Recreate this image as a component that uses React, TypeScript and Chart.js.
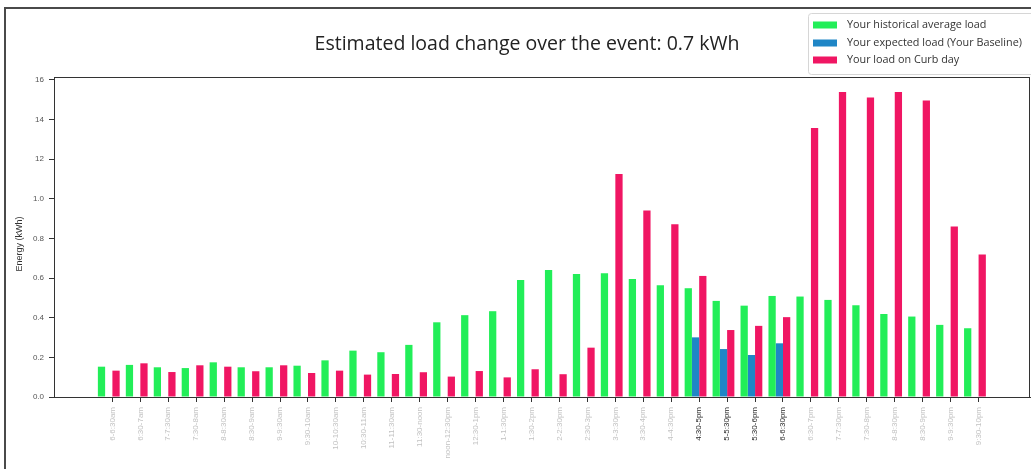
import React, { useEffect, useRef } from "react";
import { Chart, registerables } from "chart.js";

Chart.register(...registerables);

const categories = [
  "6-6:30am", "6:30-7am", "7-7:30am", "7:30-8am", "8-8:30am", "8:30-9am",
  "9-9:30am", "9:30-10am", "10-10:30am", "10:30-11am", "11-11:30am", "11:30-noon",
  "noon-12:30pm", "12:30-1pm", "1-1:30pm", "1:30-2pm", "2-2:30pm", "2:30-3pm",
  "3-3:30pm", "3:30-4pm", "4-4:30pm", "4:30-5pm", "5-5:30pm", "5:30-6pm",
  "6-6:30pm", "6:30-7pm", "7-7:30pm", "7:30-8pm", "8-8:30pm", "8:30-9pm",
  "9-9:30pm", "9:30-10pm",
];

const eventCategories = ["4:30-5pm", "5-5:30pm", "5:30-6pm", "6-6:30pm"];

const historicalLoad = [
  0.153, 0.162, 0.150, 0.146, 0.175, 0.150, 0.150, 0.158, 0.185, 0.234,
  0.226, 0.263, 0.377, 0.413, 0.433, 0.591, 0.641, 0.621, 0.625, 0.596,
  0.564, 0.549, 0.485, 0.461, 0.510, 0.507, 0.490, 0.463, 0.419, 0.406,
  0.364, 0.347,
];

const expectedLoad: (number | null)[] = [
  null, null, null, null, null, null, null, null, null, null,
  null, null, null, null, null, null, null, null, null, null,
  null, 0.301, 0.242, 0.212, 0.271, null, null, null, null, null,
  null, null,
];

const curbDayLoad = [
  0.133, 0.170, 0.126, 0.160, 0.153, 0.130, 0.160, 0.121, 0.133, 0.113,
  0.116, 0.125, 0.103, 0.131, 0.099, 0.140, 0.115, 0.249, 1.126, 0.941,
  0.872, 0.611, 0.338, 0.359, 0.403, 1.357, 1.539, 1.512, 1.539, 1.497,
  0.860, 0.719,
];

const seriesNames = [
  "Your historical average load",
  "Your expected load (Your Baseline)",
  "Your load on Curb day",
];

const yTickValues = [0, 0.2, 0.4, 0.6, 0.8, 1.0, 1.2, 1.4, 1.6];
const yTickLabels = ["0.0", "0.2", "0.4", "0.6", "0.8", "1.0", "12", "14", "16"];

const titleText = "Estimated load change over the event: 0.7 kWh";
const yAxisTitle = "Energy (kWh)";

const GREEN = "#22ee58";
const BLUE = "#1f86c6";
const PINK = "#f01663";

const toPoints = (vals: (number | null)[]) => vals.map((v, i) => ({ x: i, y: v }));

const decorPlugin = {
  id: "decor",
  afterDraw(chart: any) {
    const { ctx, chartArea: a } = chart;
    ctx.save();
    // axes box
    ctx.strokeStyle = "#333";
    ctx.lineWidth = 1;
    ctx.strokeRect(Math.round(a.left) + 0.5, Math.round(a.top) + 0.5, Math.round(a.right - a.left) - 1, Math.round(a.bottom - a.top));
    // outer frame
    ctx.fillStyle = "#4a4a4a";
    ctx.fillRect(4, 7, 2, chart.height - 7);
    ctx.fillRect(4, 7, chart.width - 4, 2);
    // title
    ctx.fillStyle = "#222";
    ctx.font = '19.5px "Open Sans"';
    ctx.textAlign = "center";
    ctx.textBaseline = "middle";
    ctx.fillText(titleText, 527, 44);
    // y axis title
    ctx.save();
    ctx.translate(20, 244);
    ctx.rotate(-Math.PI / 2);
    ctx.font = '9px "Liberation Sans"';
    ctx.fillStyle = "#333";
    ctx.fillText(yAxisTitle, 0, 0);
    ctx.restore();
    // legend
    ctx.beginPath();
    ctx.roundRect(808.5, 13.5, 240, 61, 3);
    ctx.fillStyle = "#fff";
    ctx.fill();
    ctx.strokeStyle = "#d6d6d6";
    ctx.stroke();
    ctx.font = '10.8px "Open Sans"';
    ctx.textAlign = "left";
    ctx.textBaseline = "middle";
    const rows = [25, 43, 60];
    chart.data.datasets.forEach((ds: any, i: number) => {
      ctx.fillStyle = ds.backgroundColor;
      ctx.fillRect(813, rows[i] - 3.5, 24, 7);
      ctx.fillStyle = "#333";
      ctx.fillText(ds.label, 847, rows[i]);
    });
    ctx.restore();
  },
};

export default function App() {
  const ref = useRef<HTMLCanvasElement>(null);
  useEffect(() => {
    if (!ref.current) return;
    const chart = new Chart(ref.current, {
      type: "bar",
      data: {
        datasets: [
          { label: seriesNames[0], data: toPoints(historicalLoad) as any, backgroundColor: GREEN, borderWidth: 0 },
          { label: seriesNames[1], data: toPoints(expectedLoad) as any, backgroundColor: BLUE, borderWidth: 0 },
          { label: seriesNames[2], data: toPoints(curbDayLoad) as any, backgroundColor: PINK, borderWidth: 0 },
        ],
      },
      options: {
        animation: false,
        responsive: false,
        events: [],
        categoryPercentage: 0.78,
        barPercentage: 1.0,
        layout: { padding: { left: 0, right: 1, top: 77, bottom: 0 } },
        plugins: { legend: { display: false }, title: { display: false }, tooltip: { enabled: false } },
        scales: {
          x: {
            type: "linear",
            min: -1.96,
            max: 32.97,
            offset: false,
            afterBuildTicks: (scale: any) => {
              scale.ticks = categories.map((_, i) => ({ value: i + 0.13 }));
            },
            afterFit: (scale: any) => {
              scale.height = 72;
            },
            grid: { display: true, offset: false, drawOnChartArea: false, drawTicks: true, tickLength: 5, color: "#333" },
            border: { display: true, color: "#333" },
            ticks: {
              autoSkip: false,
              minRotation: 90,
              maxRotation: 90,
              padding: 5,
              font: { family: '"Liberation Sans"', size: 8 },
              color: (c: any) => (eventCategories.includes(categories[c.index]) ? "#2a2a2a" : "#c2c2c2"),
              callback: (_v: any, i: number) => categories[i],
            },
          },
          y: {
            min: 0,
            max: 1.615,
            afterBuildTicks: (scale: any) => {
              scale.ticks = yTickValues.map((v) => ({ value: v }));
            },
            afterFit: (scale: any) => {
              scale.width = 54;
            },
            grid: { display: true, drawOnChartArea: false, drawTicks: true, tickLength: 5, color: "#333" },
            border: { display: true, color: "#333" },
            ticks: {
              padding: 5,
              font: { family: '"Liberation Sans"', size: 8 },
              color: "#555",
              callback: (_v: any, i: number) => yTickLabels[i],
            },
          },
        },
      },
      plugins: [decorPlugin],
    });
    return () => chart.destroy();
  }, []);
  return (
    <div style={{ position: "absolute", left: 0, top: 0, width: 1031, height: 469, background: "#fff" }}>
      <canvas ref={ref} width={1031} height={469} />
    </div>
  );
}
